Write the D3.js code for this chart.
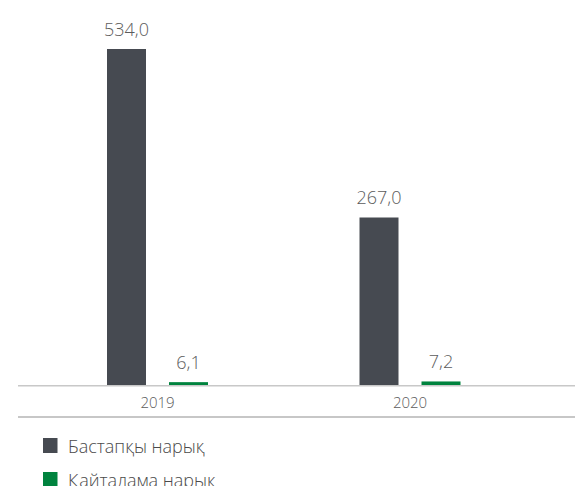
<!DOCTYPE html>
<html>
<head>
<meta charset="utf-8">
<script src="https://cdn.jsdelivr.net/npm/d3@7"></script>
<style>
  body { margin: 0; background: #fff; }
  text { font-family: "Open Sans", "Noto Sans", sans-serif; }
</style>
</head>
<body>
<div id="chart"></div>
<script>
// data
var years = ["2019", "2020"];
var series = ["Бастапқы нарық", "Қайталама нарық"];
var primary = [534.0, 267.0];
var secondary = [6.1, 7.2];
var colors = ["#464a51", "#00833e"];

var width = 575, height = 486;

var svg = d3.select("#chart")
    .append("svg")
    .attr("width", width)
    .attr("height", height);

// scales
var x = d3.scaleBand()
    .domain(years)
    .range([31.25, 536.25]);

var xInner = d3.scaleBand()
    .domain(series)
    .range([-50.5, 50.5])
    .paddingInner(0.371);

var y = d3.scaleLinear()
    .domain([0, 534])
    .range([386, 49]);

var rows = years.map(function (yr, i) {
    return { year: yr, values: [primary[i], secondary[i]] };
});

// bars
var group = svg.selectAll(".year")
    .data(rows)
    .enter()
    .append("g")
    .attr("class", "year")
    .attr("transform", function (d) {
        return "translate(" + (x(d.year) + x.bandwidth() / 2) + ",0)";
    });

group.selectAll("rect")
    .data(function (d) {
        return d.values.map(function (v, j) { return { s: series[j], v: v, j: j }; });
    })
    .enter()
    .append("rect")
    .attr("x", function (d) { return xInner(d.s); })
    .attr("width", xInner.bandwidth())
    .attr("y", function (d) { return y(d.v); })
    .attr("height", function (d) { return y(0) - y(d.v); })
    .attr("fill", function (d) { return colors[d.j]; });

// value labels
group.selectAll(".val")
    .data(function (d) {
        return d.values.map(function (v, j) { return { s: series[j], v: v }; });
    })
    .enter()
    .append("text")
    .attr("class", "val")
    .attr("x", function (d) { return xInner(d.s) + xInner.bandwidth() / 2; })
    .attr("y", function (d) { return y(d.v) - 13.5; })
    .attr("text-anchor", "middle")
    .style("font-size", "18px")
    .style("font-weight", 300)
    .style("fill", "#5c5c5c")
    .text(function (d) { return d.v.toFixed(1).replace(".", ","); });

// axis lines
svg.append("line")
    .attr("x1", 18).attr("x2", width)
    .attr("y1", 385.75).attr("y2", 385.75)
    .attr("stroke", "#c8c8c8")
    .attr("stroke-width", 1.5);

svg.append("line")
    .attr("x1", 18).attr("x2", width)
    .attr("y1", 417).attr("y2", 417)
    .attr("stroke", "#b5b5b5")
    .attr("stroke-width", 1.5);

// year labels
var xAxis = svg.append("g")
    .attr("transform", "translate(0,386)")
    .call(d3.axisBottom(x).tickSize(0).tickPadding(0));
xAxis.select(".domain").remove();
xAxis.selectAll("text")
    .attr("dy", null)
    .attr("y", 22)
    .style("font-family", "\"Open Sans\", \"Noto Sans\", sans-serif")
    .style("font-size", "15px")
    .style("font-weight", 300)
    .style("fill", "#5c5c5c");

// legend
var legend = svg.selectAll(".legend")
    .data(series)
    .enter()
    .append("g")
    .attr("class", "legend")
    .attr("transform", function (d, i) { return "translate(43," + (438 + i * 34) + ")"; });

legend.append("rect")
    .attr("width", 14.5)
    .attr("height", 15)
    .attr("fill", function (d, i) { return colors[i]; });

legend.append("text")
    .attr("x", 25)
    .attr("y", 14.5)
    .style("font-size", "18px")
    .style("font-weight", 300)
    .style("fill", "#4a4a4a")
    .text(function (d) { return d; });
</script>
</body>
</html>
